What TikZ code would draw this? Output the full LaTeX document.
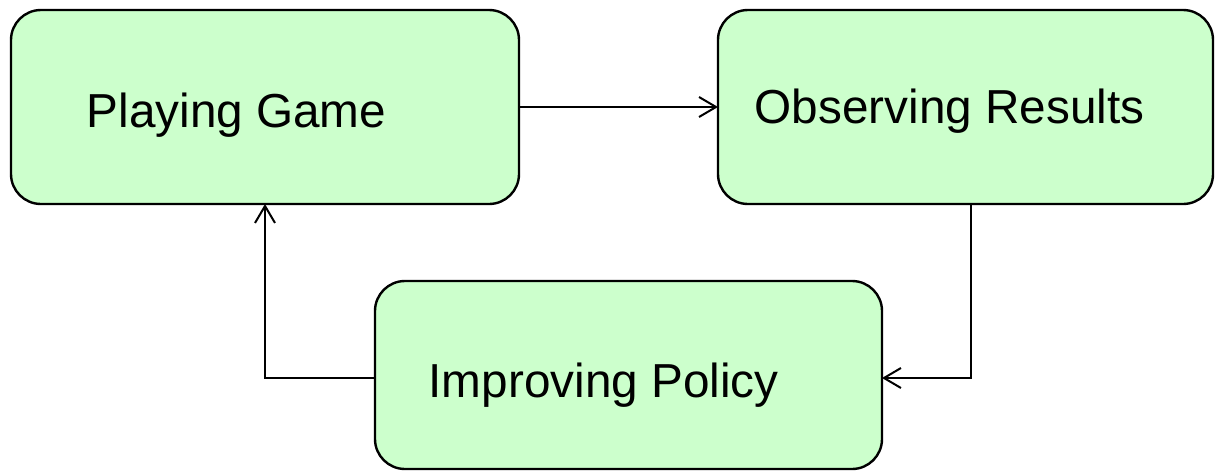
\documentclass[tikz,border=0pt]{standalone}
\usepackage{fontspec}
\setmainfont{Liberation Sans}
\usetikzlibrary{arrows.meta}
\definecolor{boxfill}{HTML}{CCFFCC}
\tikzset{
  stagebox/.style={draw=black, fill=boxfill, line width=2.4pt, rounded corners=30pt},
  stagetext/.style={anchor=base west, inner sep=0pt, font=\fontsize{47.7}{52}\selectfont},
  flow/.style={line width=2pt, -{Straight Barb[length=17pt,width=20pt,line width=2pt]}}
}
\begin{document}
\begin{tikzpicture}[x=1pt,y=-1pt]
\useasboundingbox (0,0) rectangle (1215,471);
\path[stagebox] (11,10) rectangle (519,204);
\path[stagebox] (718,10) rectangle (1213,204);
\path[stagebox] (375,281) rectangle (882,469);
\coordinate (pgR) at (519,107);
\coordinate (orL) at (718,107);
\coordinate (orB) at (971,204);
\coordinate (ipR) at (882,378);
\coordinate (ipL) at (375,378);
\coordinate (pgB) at (265,204);
\node[stagetext] (pg) at (86.5,127.3) {Playing Game};
\node[stagetext] (or) at (754.5,123.5) {Observing Results};
\node[stagetext] (ip) at (428.5,397.3) {Improving Policy};
\draw[flow] (pgR) -- (orL);
\draw[flow] (orB) |- (ipR);
\draw[flow] (ipL) -| (pgB);
\end{tikzpicture}
\end{document}
